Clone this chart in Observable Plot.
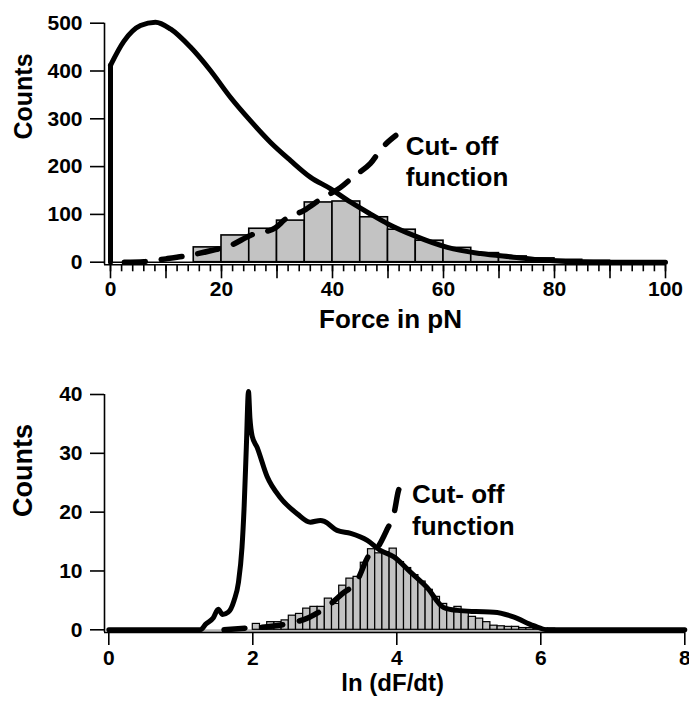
<!DOCTYPE html>
<html><head><meta charset="utf-8">
<script src="https://cdn.jsdelivr.net/npm/d3@7"></script>
<script src="https://cdn.jsdelivr.net/npm/@observablehq/plot@0.6"></script>
<style>
html,body{margin:0;padding:0;background:#fff;}
#chart svg{display:block;}
</style></head><body><div id="chart"></div>
<script>
// ---------- Top panel: rupture force histogram ----------
const forceBinStart  = [0,5,10,15,20,25,30,35,40,45,50,55,60,65,70,75,80,85,90,95];
const forceBinCounts = [0,0,0,31,56,70,87,125,127,94,68,45,30,19,12,8,5,3,0,0];
const forceFitX = [0,0,2.4,5.4,8.1,10.8,14.4,18,21.6,25.2,28.8,32.4,36,39.6,43.2,46.8,50,54.6,60.7,66.7,72.6,77,87,100];
const forceFitY = [0,412,462,495,502,488,450,401,345,296,251,213,178,154,126,101,80,56,31,18,10.5,5,0,0];
const forceCutX = [2.5,6,10,14,18,21.6,25.2,29.7,31.5,34.8,38,41.4,44,46.8,49,51.4];
const forceCutY = [0,1,7,14,24,35,56,72,90,108,133,156,181,206,240,265];
const forceYTicks = [0,100,200,300,400,500];
const forceXMajorTicks = [0,10,20,30,40,50,60,70,80,90,100];
const forceXMinorTicks = [0,2,4,6,8,10,12,14,16,18,20,22,24,26,28,30,32,34,36,38,40,42,44,46,48,50,52,54,56,58,60,62,64,66,68,70,72,74,76,78,80,82,84,86,88,90,92,94,96,98,100];
const forceXLabels = [0,20,40,60,80,100];
const forceXTitle = "Force in pN";

// ---------- Bottom panel: loading-rate histogram ----------
const rateBinStart = [1.3,1.4,1.5,1.6,1.7,1.8,1.9,2.0,2.1,2.2,2.3,2.4,2.5,2.6,2.7,2.8,2.9,3.0,3.1,3.2,3.3,3.4,3.5,3.6,3.7,3.8,3.9,4.0,4.1,4.2,4.3,4.4,4.5,4.6,4.7,4.8,4.9,5.0,5.1,5.2,5.3,5.4,5.5,5.6,5.7,5.8,5.9,6.0,6.1,6.2,6.3,6.4];
const rateBinCounts = [0,0,0,0,0,0,0,1.0,0.6,1.3,1.3,1.6,2.4,2.7,3.6,3.9,3.9,5.3,4.4,7.5,8.7,9.0,11.4,13.7,13.0,13.2,13.8,11.5,10.5,9.3,8.2,6.8,5.6,4.4,3.3,3.9,3.3,2.2,1.9,1.3,0.7,0.6,0.5,0.5,0.3,0.3,0.2,0.2,0.2,0,0,0];
const rateFitX = [0,1.27,1.35,1.45,1.52,1.58,1.66,1.74,1.8,1.85,1.88,1.91,1.94,1.96,1.99,2.06,2.2,2.38,2.62,2.8,2.94,3.0,3.17,3.36,3.59,3.77,3.96,4.19,4.42,4.65,4.84,5.1,5.35,5.62,5.9,6.09,8];
const rateFitY = [0,0,1,2,3.5,2.6,3,5,8,14,21,31,40.5,36,33,31,26,22.5,19.7,18.3,18.6,18.4,16.9,16.4,15.2,13.5,12.4,9.8,7.2,3.8,3.3,3.1,3,2.2,0.7,0,0];
const rateCutX = [1.6,1.92,2.2,2.48,2.78,3.03,3.24,3.45,3.6,3.75,3.87,3.96,4.02,4.1];
const rateCutY = [0,0.3,0.5,1,2.1,3.9,6.1,8.4,12.4,14.3,17.2,19.7,23.5,25.5];
const rateYTicks = [0,10,20,30,40];
const rateXTicks = [0,2,4,6,8];
const rateXTitle = "ln (dF/dt)";

const yTitle = "Counts";
const cutLabel = "Cut- off\nfunction";

// ---------- helpers ----------
const FONT = "'Liberation Sans', Arial, Helvetica, sans-serif";
function binsOf(starts, counts) {
  const w = starts[1] - starts[0];
  return starts.map((s, i) => ({x0: s, x1: s + w, count: counts[i]}));
}
function pts(xs, ys) { return xs.map((x, i) => ({x, y: ys[i]})); }

const forceBins = binsOf(forceBinStart, forceBinCounts);
const forceFit = pts(forceFitX, forceFitY);
const forceCut = pts(forceCutX, forceCutY);
const rateBins = binsOf(rateBinStart, rateBinCounts);
const rateFit = pts(rateFitX, rateFitY);
const rateCut = pts(rateCutX, rateCutY);

const topChart = Plot.plot({
  width: 689, height: 350,
  marginLeft: 104, marginRight: 24, marginTop: 22.7, marginBottom: 85.7,
  x: {domain: [0, 100], insetLeft: 6},
  y: {domain: [0, 500], insetBottom: 2.6},
  style: {fontFamily: FONT, fontWeight: "bold", fontSize: "21px", color: "black", background: "white", overflow: "visible"},
  marks: [
    Plot.rectY(forceBins.filter(d => d.count > 0), {x1: "x0", x2: "x1", y: "count", fill: "#c3c3c3", stroke: "black", strokeWidth: 1.6}),
    Plot.ruleY([0], {x1: d3.min(forceBins, d => d.x0), x2: d3.max(forceBins, d => d.x1), stroke: "black", strokeWidth: 1.6}),
    // vertical rise at zero force, then the smooth fitted distribution
    Plot.line(forceFit.slice(0, 2), {x: "x", y: "y", stroke: "black", strokeWidth: 5, curve: "linear"}),
    Plot.line(forceFit.slice(1), {x: "x", y: "y", stroke: "black", strokeWidth: 5, curve: "monotone-x", strokeLinejoin: "round"}),
    Plot.line(forceCut, {x: "x", y: "y", stroke: "black", strokeWidth: 5.5, strokeDasharray: "21,16", curve: "monotone-x"}),
    Plot.ruleY([0], {dy: 2.6, stroke: "black", strokeWidth: 1.6}),
    Plot.ruleX([0], {dx: -6, stroke: "black", strokeWidth: 1.6}),
    Plot.axisY({ticks: forceYTicks, tickSize: 14, tickPadding: 8, label: null, strokeWidth: 1.6}),
    Plot.axisX({ticks: forceXMinorTicks, tickSize: 7, tickFormat: () => "", label: null, strokeWidth: 1.6}),
    Plot.axisX({ticks: forceXMajorTicks, tickSize: 14, tickPadding: 2, label: null, strokeWidth: 1.6,
      tickFormat: d => forceXLabels.includes(d) ? String(d) : ""}),
    Plot.text([forceCut[forceCut.length - 1]], {x: "x", y: "y", text: () => cutLabel, textAnchor: "start", lineAnchor: "top", lineHeight: 1.22, fontSize: 26, dx: 10, dy: -3.3}),
    Plot.text([yTitle], {text: d => d, frameAnchor: "left", rotate: -90, dx: -81, dy: -4.5, fontSize: 25}),
    Plot.text([forceXTitle], {text: d => d, frameAnchor: "bottom", dx: 5.5, dy: 63, fontSize: 26})
  ]
});

const bottomChart = Plot.plot({
  width: 689, height: 353,
  marginLeft: 104, marginRight: 4.7, marginTop: 44, marginBottom: 71,
  x: {domain: [0, 8], insetLeft: 4.3},
  y: {domain: [0, 40], insetBottom: 2.7},
  style: {fontFamily: FONT, fontWeight: "bold", fontSize: "21px", color: "black", background: "white", overflow: "visible"},
  marks: [
    Plot.ruleY([0], {x1: d3.min(rateBins, d => d.x0), x2: d3.max(rateBins, d => d.x1), stroke: "#b5b5b5", strokeWidth: 3, dy: 1}),
    Plot.rectY(rateBins.filter(d => d.count > 0), {x1: "x0", x2: "x1", y: "count", fill: "#c3c3c3", stroke: "black", strokeWidth: 1.2}),
    Plot.line(rateFit, {x: "x", y: "y", stroke: "black", strokeWidth: 5, curve: "monotone-x", strokeLinejoin: "round"}),
    Plot.line(rateCut, {x: "x", y: "y", stroke: "black", strokeWidth: 5.5, strokeDasharray: "21,17", curve: "monotone-x"}),
    Plot.ruleY([0], {dy: 2.7, stroke: "black", strokeWidth: 1.6}),
    Plot.ruleX([0], {dx: -4.3, stroke: "black", strokeWidth: 1.6}),
    Plot.axisY({ticks: rateYTicks, tickSize: 14, tickPadding: 8, label: null, strokeWidth: 1.6}),
    Plot.axisX({ticks: rateXTicks, tickSize: 13, tickPadding: 5, label: null, strokeWidth: 1.6}),
    Plot.text([rateCut[rateCut.length - 1]], {x: "x", y: "y", text: () => cutLabel, textAnchor: "start", lineAnchor: "top", lineHeight: 1.22, fontSize: 26, dx: 8, dy: 0.6}),
    Plot.text([yTitle], {text: d => d, frameAnchor: "left", rotate: -90, dx: -81, dy: 3.5, fontSize: 27}),
    Plot.text([rateXTitle], {text: d => d, frameAnchor: "bottom", dx: -2, dy: 58, fontSize: 24})
  ]
});

const host = document.getElementById("chart");
host.appendChild(topChart);
host.appendChild(bottomChart);
</script>
</body></html>
